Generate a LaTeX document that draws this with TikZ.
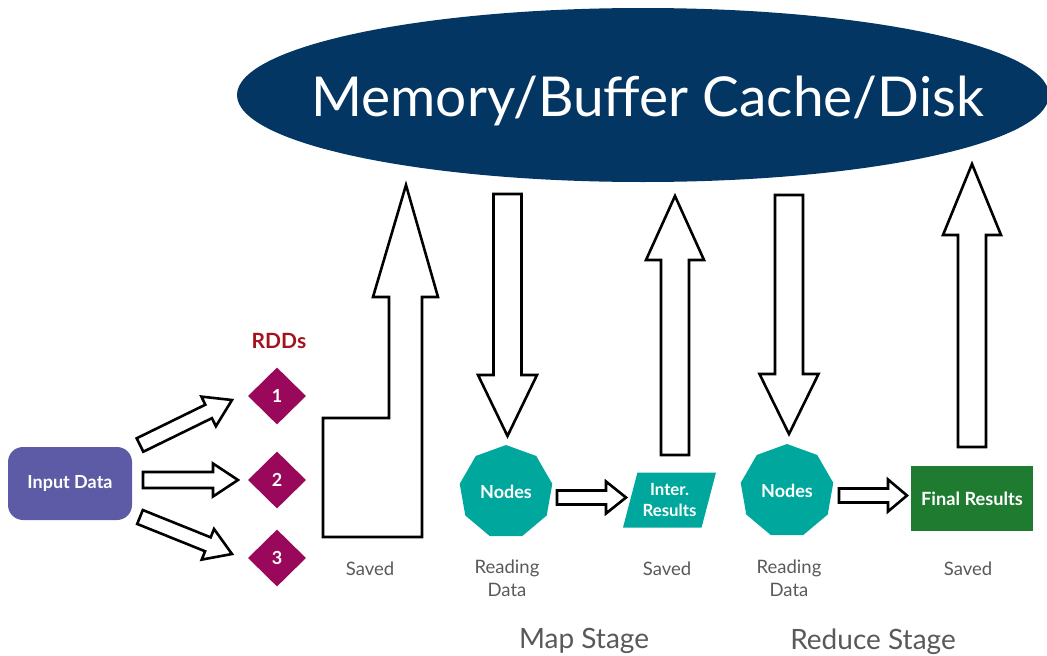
\documentclass[tikz,border=0pt]{standalone}
\usepackage{fontspec}
\setmainfont{Lato}
\usetikzlibrary{shapes.geometric,calc}

\definecolor{storeblue}{HTML}{033663}
\definecolor{inputpurple}{HTML}{5E5BA6}
\definecolor{rddmagenta}{HTML}{99085B}
\definecolor{rddred}{HTML}{A3121F}
\definecolor{nodeteal}{HTML}{00A79C}
\definecolor{finalgreen}{HTML}{1E7B30}
\definecolor{labelgray}{HTML}{595959}

\tikzset{
  blockline/.style={draw=black, fill=white, line width=2.6pt, line join=miter},
  rdd/.style={diamond, fill=rddmagenta, minimum width=58pt, minimum height=57pt,
    inner sep=0pt, text=white, font=\bfseries\fontsize{18}{20}\selectfont},
  worker/.style={regular polygon, regular polygon sides=9, fill=nodeteal,
    minimum size=94pt, inner sep=0pt, text=white, font=\bfseries\fontsize{18}{20}\selectfont},
  caption/.style={text=labelgray, align=center, font=\fontsize{18.5}{23}\selectfont},
  stage/.style={text=labelgray, font=\fontsize{28}{30}\selectfont},
}

% block arrow: tail, tip, shaft half-width, head half-width, head length
\newcommand\blockarrow[5]{%
  \path ($(#2)!#5!(#1)$) coordinate (ba-h);
  \draw[blockline] ($(#1)!#3!90:(#2)$) -- ($(ba-h)!#3!90:(#2)$)
    -- ($(ba-h)!#4!90:(#2)$) -- (#2) -- ($(ba-h)!#4!-90:(#2)$)
    -- ($(ba-h)!#3!-90:(#2)$) -- ($(#1)!#3!-90:(#2)$) -- cycle;
}

\begin{document}
\begin{tikzpicture}[x=1pt, y=-1pt]
\useasboundingbox (0,0) rectangle (1047,656);

% storage ellipse
\node[ellipse, fill=storeblue, minimum width=812pt, minimum height=174pt, inner sep=0pt] (store) at (643,95) {};
\node[text=white, font=\fontsize{55}{64}\selectfont, inner sep=0pt] (storelabel) at (647.5,101) {Memory/Buffer Cache/Disk};

% input and RDDs
\node[fill=inputpurple, rounded corners=15pt, minimum width=124pt, minimum height=73pt,
  text=white, font=\bfseries\fontsize{18}{20}\selectfont] (input) at (70,483.5) {Input Data};
\node[text=rddred, font=\bfseries\fontsize{21}{23}\selectfont] (rddtitle) at (279,341) {RDDs};
\node[rdd] (rdd1) at (277,396) {1};
\node[rdd] (rdd2) at (277,480) {2};
\node[rdd] (rdd3) at (277,558) {3};

% workers and results
\node[worker] (map) at (506,492) {Nodes};
\node[worker] (reduce) at (787,491) {Nodes};
\node[trapezium, trapezium left angle=70, trapezium right angle=110, trapezium stretches=true,
  fill=nodeteal, minimum width=93pt, minimum height=55pt, inner sep=0pt, text=white, align=center,
  font=\bfseries\fontsize{16.8}{21}\selectfont] (inter) at (669.5,500) {Inter.\\Results};
\node[fill=finalgreen, minimum width=122pt, minimum height=65pt, text=white,
  font=\bfseries\fontsize{18.2}{20}\selectfont] (final) at (972,498.5) {Final Results};

% arrow end points
\coordinate (a1s) at (140,445);  \coordinate (a1e) at (232,400);
\coordinate (a2s) at (143,480);  \coordinate (a2e) at (238,480);
\coordinate (a3s) at (140,517);  \coordinate (a3e) at (232,554);
\coordinate (mds) at (507.5,194); \coordinate (mde) at (507.5,436);
\coordinate (mus) at (675,455);  \coordinate (mue) at (675,196);
\coordinate (rds) at (789,195);  \coordinate (rde) at (789,434);
\coordinate (rus) at (972,447);  \coordinate (rue) at (972,164);
\coordinate (mxs) at (557,497.5); \coordinate (mxe) at (626,497.5);
\coordinate (rxs) at (839,495.5); \coordinate (rxe) at (907,495.5);

% input to RDDs
\blockarrow{a1s}{a1e}{7.5pt}{16.5pt}{26pt}
\blockarrow{a2s}{a2e}{8pt}{16.5pt}{25pt}
\blockarrow{a3s}{a3e}{7.5pt}{16.5pt}{26pt}

% RDDs saved to storage
\draw[blockline] (323,537) -- (323,418) -- (389,418) -- (389,297) -- (373,297)
  -- (406,185) -- (438,297) -- (422,297) -- (422,537) -- cycle;

% map stage
\blockarrow{mds}{mde}{14pt}{29.5pt}{61pt}
\blockarrow{mus}{mue}{14pt}{29pt}{64pt}
\blockarrow{mxs}{mxe}{7pt}{16pt}{20pt}

% reduce stage
\blockarrow{rds}{rde}{14pt}{29.5pt}{60pt}
\blockarrow{rus}{rue}{14pt}{29pt}{71pt}
\blockarrow{rxs}{rxe}{7pt}{16pt}{19pt}

% captions
\node[caption] (cap1) at (370,569) {Saved};
\node[caption] (cap2) at (507,578) {Reading\\Data};
\node[caption] (cap3) at (667,569) {Saved};
\node[caption] (cap4) at (789,578) {Reading\\Data};
\node[caption] (cap5) at (968,569) {Saved};
\node[stage] (mapstage) at (584,641) {Map Stage};
\node[stage] (reducestage) at (873,642) {Reduce Stage};
\end{tikzpicture}
\end{document}
